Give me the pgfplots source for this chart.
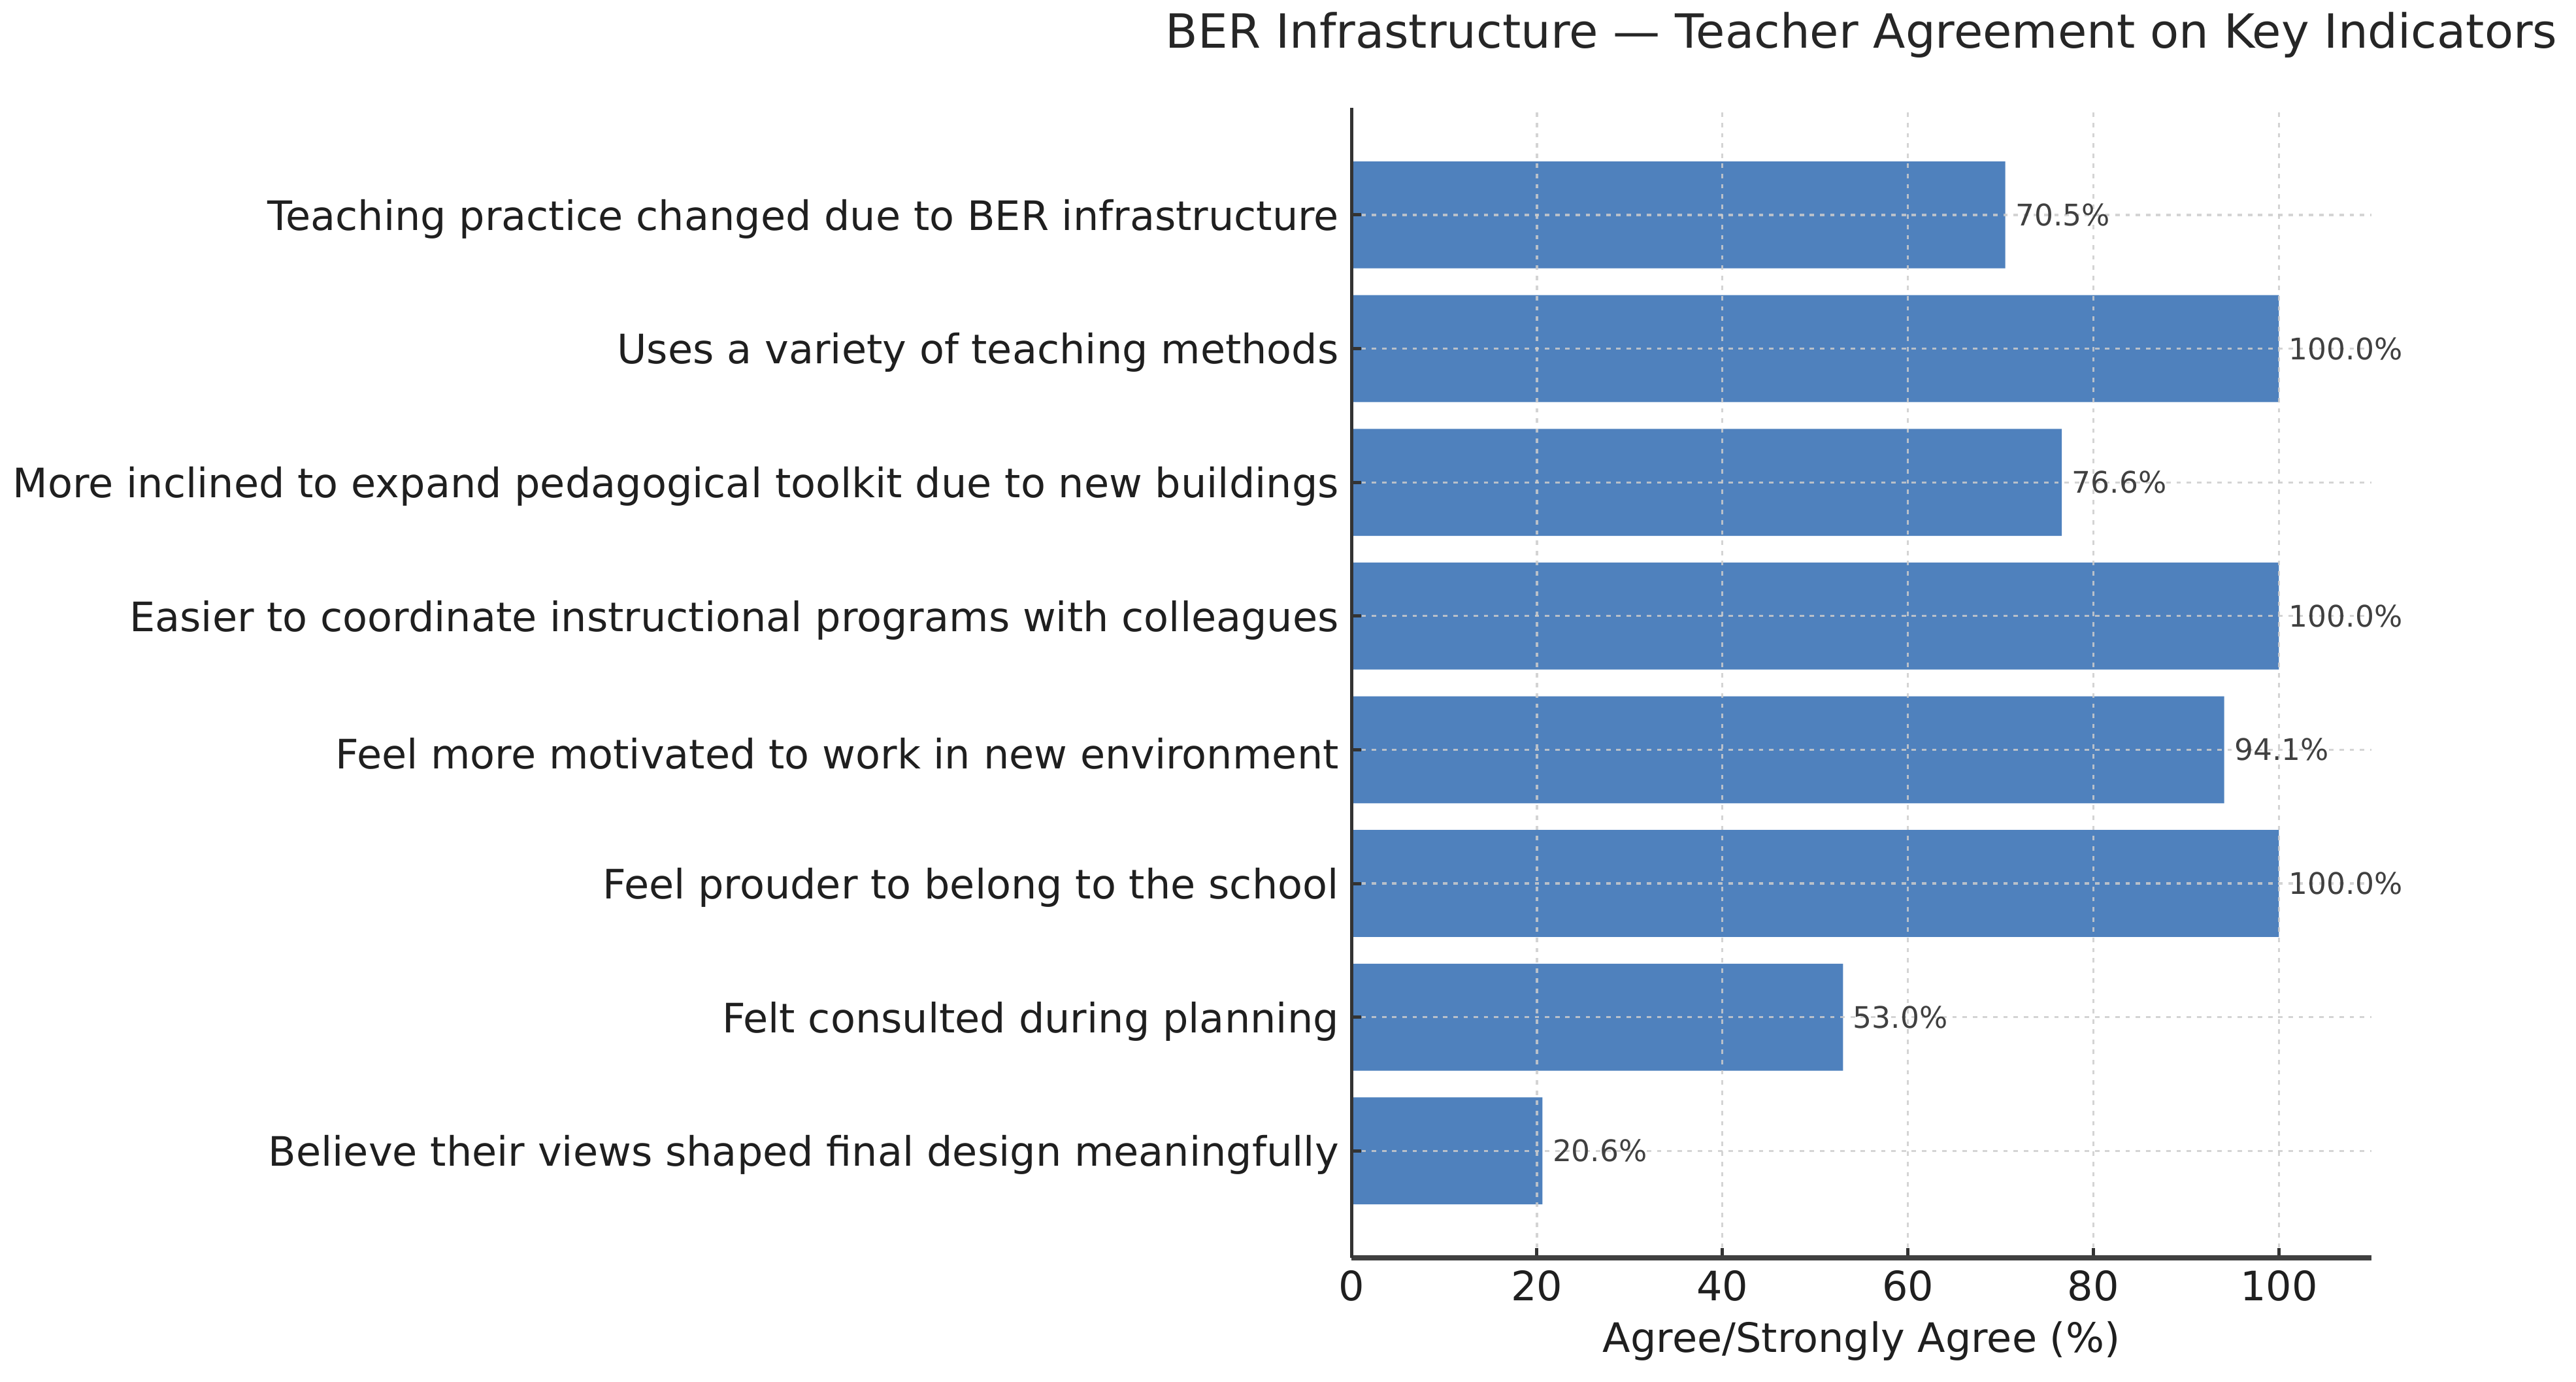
\documentclass[border=0pt]{standalone}
\usepackage{fontspec}
\setmainfont{DejaVu Sans}
\usepackage{pgfplots}
\pgfplotsset{compat=1.18}
\definecolor{barblue}{HTML}{4F81BD}
\definecolor{gridc}{HTML}{CCCCCC}
\begin{document}
\begin{tikzpicture}
\begin{axis}[
  at={(822.6pt,-765.7pt)}, anchor=south west,
  scale only axis, width=621pt, height=700pt,
  xmin=0, xmax=110, ymin=-0.8, ymax=7.8,
  enlargelimits=false,
  /pgf/number format/assume math mode=true,
  xbar, bar width=0.8,
  axis x line*=bottom, axis y line*=left,
  axis line style={-},
  x axis line style={line width=3pt, color=black!75},
  y axis line style={line width=2pt, color=black!80},
  xtick={0,20,40,60,80,100},
  ytick={0,1,2,3,4,5,6,7},
  yticklabels={Believe their views shaped final design meaningfully,
    Felt consulted during planning,
    Feel prouder to belong to the school,
    Feel more motivated to work in new environment,
    Easier to coordinate instructional programs with colleagues,
    More inclined to expand pedagogical toolkit due to new buildings,
    Uses a variety of teaching methods,
    Teaching practice changed due to BER infrastructure},
  tick align=inside, major tick length=6pt,
  tick style={line width=2pt, color=black!80},
  ticklabel style={font=\fontsize{24.7}{29}\selectfont, color=black!88},
  xticklabel style={inner sep=0pt, anchor=base, yshift=-25.9pt},
  yticklabel style={inner sep=0pt, anchor=east, xshift=-7.5pt, yshift=-2.5pt},
  xmajorgrids, ymajorgrids,
  major grid style={color=gridc, opacity=0.85, line width=1.3pt, dash pattern=on 2.7pt off 3.5pt},
  axis on top,
  title={BER Infrastructure — Teacher Agreement on Key Indicators},
  title style={at={(axis description cs:0.5,1)}, anchor=base, yshift=30.6pt,
    inner sep=0pt, font=\fontsize{28.7}{34}\selectfont, color=black!85},
  xlabel={Agree/Strongly Agree (\%)},
  xlabel style={at={(axis description cs:0.5,0)}, anchor=base, yshift=-57.3pt,
    inner sep=0pt, font=\fontsize{24.7}{29}\selectfont, color=black!88},
  point meta=x,
  nodes near coords={\pgfmathprintnumber[fixed,fixed zerofill,precision=1]{\pgfplotspointmeta}\%},
  nodes near coords style={anchor=west, inner sep=0pt, xshift=6pt,
    font=\fontsize{18.1}{22}\selectfont, color=black!75},
]
\addplot[fill=barblue, draw=none] coordinates {
  (20.6,0) (53.0,1) (100,2) (94.1,3) (100,4) (76.6,5) (100,6) (70.5,7)
};
\end{axis}
\pgfresetboundingbox
\path (0,0) rectangle (1568pt,-840.9pt);
\end{tikzpicture}
\end{document}
